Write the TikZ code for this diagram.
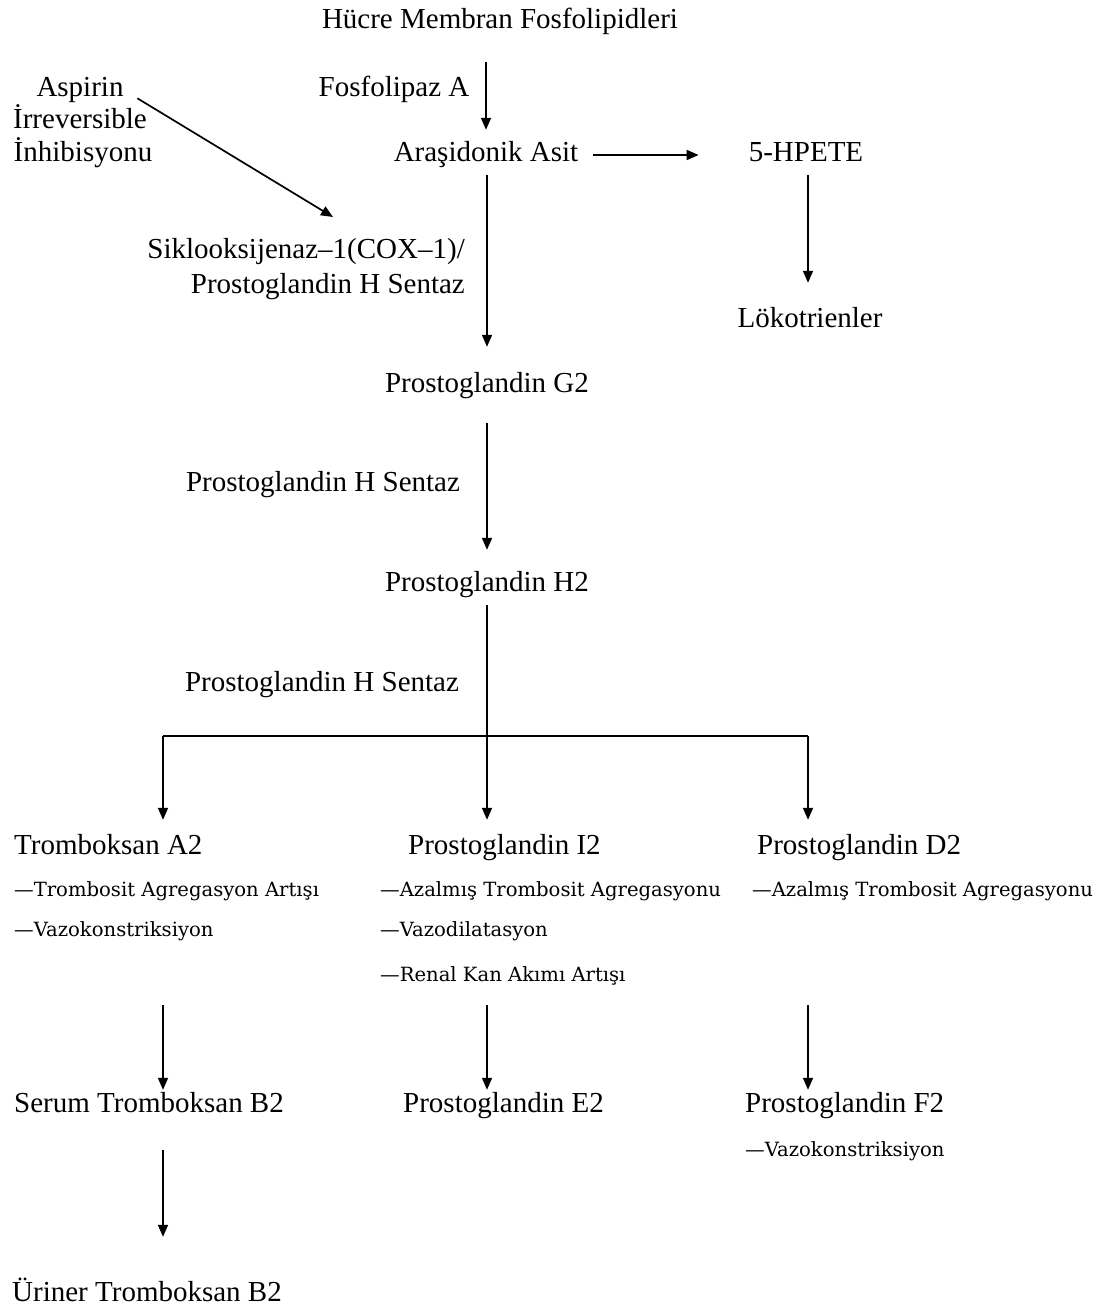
\documentclass[tikz,border=0pt]{standalone}
\usepackage{fontspec}
\setmainfont{Liberation Serif}
\newfontfamily\effserif{DejaVu Serif}
\usetikzlibrary{arrows.meta}

\begin{document}
\begin{tikzpicture}[x=1pt,y=-1pt,
	every node/.style={inner sep=0pt,text height=20pt,text depth=6pt,font=\fontsize{29}{33}\selectfont},
	lbl/.style={anchor=base},
	lft/.style={anchor=base west},
	rgt/.style={anchor=base east},
	eff/.style={anchor=base west,text height=14pt,text depth=4pt,font=\effserif\fontsize{19.6}{22}\selectfont},
	arr/.style={-{Triangle[length=12pt,width=10pt]},line width=1.7pt},
	ln/.style={line width=1.7pt}]
	\useasboundingbox (0,0) rectangle (1109,1313);
	% upper part
	\node[lbl] (hucre) at (500,29) {Hücre Membran Fosfolipidleri};
	\node[lbl] (fosA) at (394,97) {Fosfolipaz A};
	\node[lbl] (aras) at (486,162) {Araşidonik Asit};
	\node[lbl] (hpete) at (806,162) {5-HPETE};
	\node[lbl] (lok) at (810,327) {Lökotrienler};
	\node[lbl] (aspA) at (80,97) {Aspirin};
	\node[lbl] (aspB) at (80,129) {İrreversible};
	\node[lbl] (aspC) at (83,162) {İnhibisyonu};
	\node[rgt] (coxA) at (465,259) {Siklooksijenaz–1(COX–1)/};
	\node[rgt] (coxB) at (465,294) {Prostoglandin H Sentaz};
	\coordinate (coxin) at (333,217);
	\node[lbl] (g2) at (487,392) {Prostoglandin G2};
	\node[lbl] (phsA) at (323,491) {Prostoglandin H Sentaz};
	\node[lbl] (h2) at (487,591) {Prostoglandin H2};
	\node[lbl] (phsB) at (322,691) {Prostoglandin H Sentaz};
	% branches
	\coordinate (split) at (487,736);
	\coordinate (colA) at (163,736);
	\coordinate (colC) at (808,736);
	\node[lft] (tba2) at (14,854) {Tromboksan A2};
	\node[lft] (pgi2) at (408,854) {Prostoglandin I2};
	\node[lft] (pgd2) at (757,854) {Prostoglandin D2};
	\node[eff] (tba2a) at (14,896) {—Trombosit Agregasyon Artışı};
	\node[eff] (tba2b) at (14,936) {—Vazokonstriksiyon};
	\node[eff] (pgi2a) at (380,896) {—Azalmış Trombosit Agregasyonu};
	\node[eff] (pgi2b) at (380,936) {—Vazodilatasyon};
	\node[eff] (pgi2c) at (380,981) {—Renal Kan Akımı Artışı};
	\node[eff] (pgd2a) at (752,896) {—Azalmış Trombosit Agregasyonu};
	% lower part
	\node[lft] (serum) at (14,1112) {Serum Tromboksan B2};
	\node[lft] (pge2) at (403,1112) {Prostoglandin E2};
	\node[lft] (pgf2) at (745,1112) {Prostoglandin F2};
	\node[eff] (pgf2a) at (745,1156) {—Vazokonstriksiyon};
	\node[lft] (uriner) at (12,1301) {Üriner Tromboksan B2};
	% connectors
	\draw[arr,shorten <=27pt,shorten >=12pt] (aras.north |- hucre.south) -- (aras.north);
	\draw[arr,shorten <=15pt,shorten >=50pt] (aras.east) -- (hpete.west);
	\draw[arr,shorten <=7pt,shorten >=24pt] (colC |- hpete.south) -- (colC |- lok.north);
	\draw[arr,shorten <=16pt] (aspA.east) -- (coxin);
	\draw[arr,shorten <=7pt,shorten >=25pt] (split |- aras.south) -- (split |- g2.north);
	\draw[arr,shorten <=25pt,shorten >=21pt] (split |- g2.south) -- (split |- h2.north);
	\draw[arr,shorten <=8pt,shorten >=14pt] (split |- h2.south) -- (split |- pgi2.north);
	\draw[ln] (colA) -- (colC);
	\draw[arr,shorten >=14pt] (colA) -- (colA |- tba2.north);
	\draw[arr,shorten >=14pt] (colC) -- (colC |- pgd2.north);
	\draw[arr,shorten <=20pt,shorten >=2pt] (colA |- pgi2c.south) -- (colA |- serum.north);
	\draw[arr,shorten <=20pt,shorten >=2pt] (split |- pgi2c.south) -- (split |- pge2.north);
	\draw[arr,shorten <=20pt,shorten >=2pt] (colC |- pgi2c.south) -- (colC |- pgf2.north);
	\draw[arr,shorten <=32pt,shorten >=44pt] (colA |- serum.south) -- (colA |- uriner.north);
\end{tikzpicture}
\end{document}
